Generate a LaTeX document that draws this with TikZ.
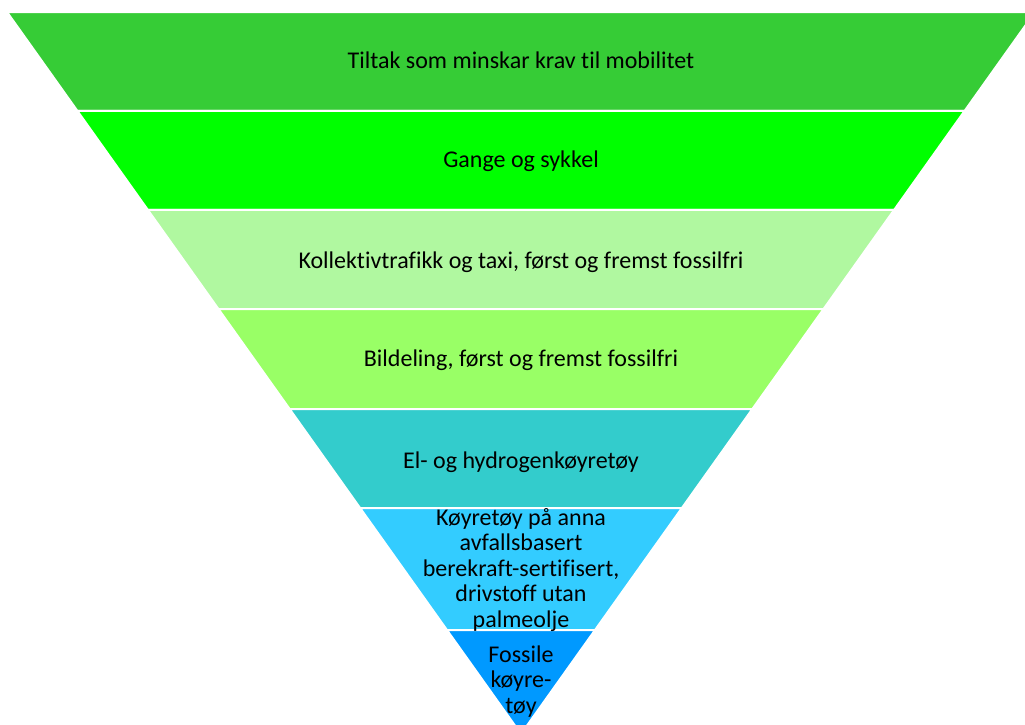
\documentclass[tikz,border=0pt]{standalone}
\usepackage{fontspec}
\setmainfont{Carlito}[Ligatures={NoCommon}]
\usetikzlibrary{calc}
\definecolor{bandA}{RGB}{54,204,54}
\definecolor{bandB}{RGB}{0,255,0}
\definecolor{bandC}{RGB}{176,248,160}
\definecolor{bandD}{RGB}{153,255,102}
\definecolor{bandE}{RGB}{51,204,204}
\definecolor{bandF}{RGB}{51,204,255}
\definecolor{bandG}{RGB}{0,153,255}
\begin{document}
\begin{tikzpicture}[x=1pt,y=-1pt,
  band/.style={draw=white, line width=2pt, line join=miter},
  lbl/.style={font=\fontsize{24}{25.5}\selectfont, align=center, anchor=base, inner sep=0pt, text=black}]
\useasboundingbox (0,0) rectangle (1025,724);
\clip (0,0) rectangle (1025,724);
\coordinate (TL) at (7,12);
\coordinate (TR) at (1035,12);
\coordinate (A) at (521,734);
\foreach \n/\t in {0/0,1/0.1371,2/0.2742,3/0.4114,4/0.5499,5/0.6870,6/0.8560,7/1}{
  \coordinate (L\n) at ($(TL)!\t!(A)$);
  \coordinate (R\n) at ($(TR)!\t!(A)$);
}
\path[band, fill=bandA] (L0) -- (R0) -- (R1) -- (L1) -- cycle;
\path[band, fill=bandB] (L1) -- (R1) -- (R2) -- (L2) -- cycle;
\path[band, fill=bandC] (L2) -- (R2) -- (R3) -- (L3) -- cycle;
\path[band, fill=bandD] (L3) -- (R3) -- (R4) -- (L4) -- cycle;
\path[band, fill=bandE] (L4) -- (R4) -- (R5) -- (L5) -- cycle;
\path[band, fill=bandF] (L5) -- (R5) -- (R6) -- (L6) -- cycle;
\path[band, fill=bandG] (L6) -- (R6) -- (L7) -- cycle;
\node[lbl] (t1) at (521,68) {Tiltak som minskar krav til mobilitet};
\node[lbl] (t2) at (521,167) {Gange og sykkel};
\node[lbl] (t3) at (521,268) {Kollektivtrafikk og taxi, først og fremst fossilfri};
\node[lbl] (t4) at (521,366) {Bildeling, først og fremst fossilfri};
\node[lbl] (t5) at (521,468) {El- og hydrogenkøyretøy};
\node[lbl] (t6) at (521,627) {Køyretøy på anna\\avfallsbasert\\berekraft-sertifisert,\\drivstoff utan\\palmeolje};
\node[lbl] (t7) at (521,713) {Fossile\\køyre-\\tøy};
\end{tikzpicture}
\end{document}
